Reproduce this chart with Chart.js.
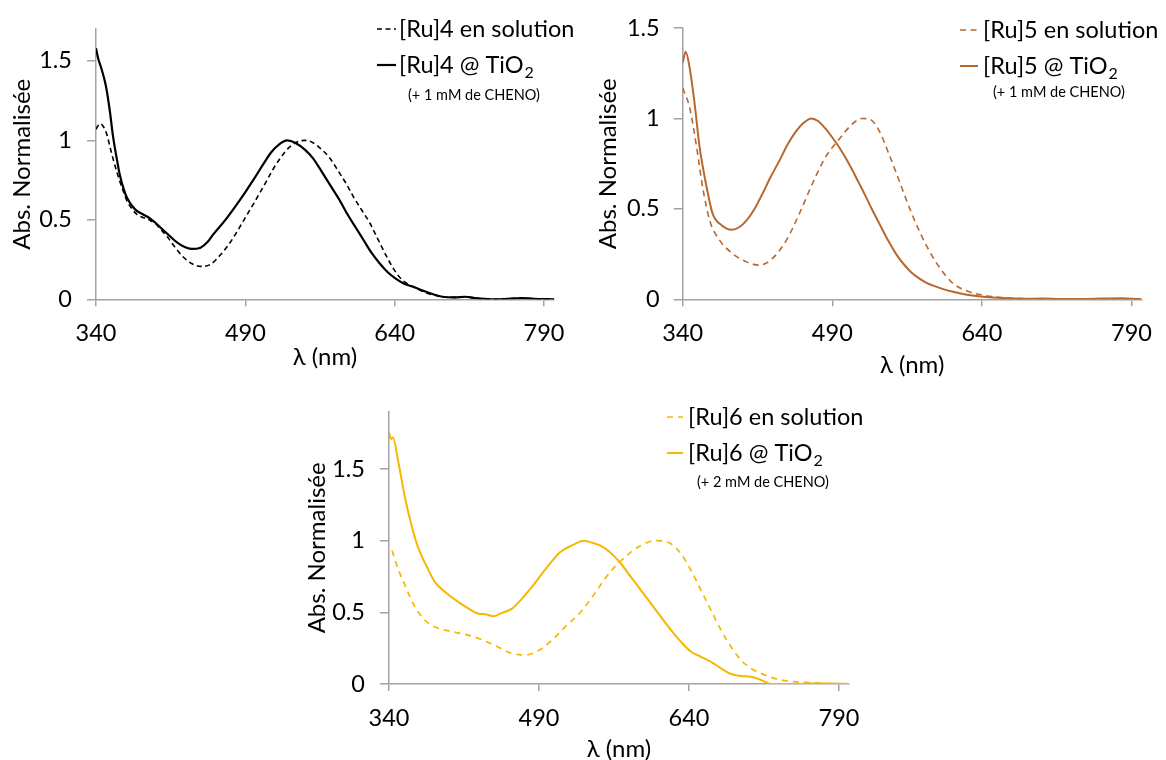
<!DOCTYPE html>
<html><head><meta charset="utf-8">
<script src="https://cdn.jsdelivr.net/npm/chart.js@4/dist/chart.umd.min.js"></script>
<style>
html,body{margin:0;padding:0;background:#fff;}
body{width:1166px;height:760px;position:relative;overflow:hidden;}
canvas{position:absolute;}
</style></head><body>
<canvas id="c1"></canvas><canvas id="c2"></canvas><canvas id="c3"></canvas>
<script>
// ---------- data ----------
const xTicks = [340, 490, 640, 790];
const yTicks = [0, 0.5, 1, 1.5];

const ru4SolNm  = [340,344,347,351,354,357,361,364,368,371,376,381,387,392,396,400,405,412,419,427,436,445,455,465,475,490,500,510,518,525,533,542,550,558,567,575,583,591,599,607,615,623,631,639,647,655,663,672,680,688,700,711,720,737,750,767,780,800];
const ru4SolAbs = [1.07,1.105,1.09,1.035,0.96,0.887,0.80,0.74,0.67,0.62,0.57,0.535,0.515,0.505,0.49,0.474,0.44,0.39,0.33,0.27,0.225,0.207,0.22,0.28,0.36,0.514,0.62,0.73,0.82,0.887,0.95,0.99,1.0,0.985,0.94,0.887,0.81,0.73,0.64,0.56,0.48,0.38,0.28,0.19,0.125,0.09,0.065,0.04,0.025,0.015,0.012,0.016,0.008,0.0,0.002,0.008,0.003,0.0];
const ru4TiNm   = [340,342,346,350,354,357,361,364,368,371,376,381,387,392,396,400,405,412,419,427,436,445,452,458,470,480,490,500,508,516,524,532,540,550,558,567,576,585,593,601,609,617,625,633,641,649,658,668,678,688,700,711,720,737,750,767,780,800];
const ru4TiAbs  = [1.58,1.52,1.44,1.34,1.18,1.03,0.88,0.78,0.69,0.64,0.59,0.556,0.535,0.518,0.50,0.48,0.45,0.41,0.37,0.335,0.317,0.325,0.36,0.41,0.50,0.585,0.675,0.77,0.85,0.925,0.975,1.0,0.985,0.94,0.887,0.80,0.71,0.62,0.53,0.45,0.37,0.29,0.225,0.17,0.13,0.10,0.08,0.055,0.033,0.016,0.012,0.016,0.008,0.0,0.002,0.008,0.003,0.0];

const ru5SolNm  = [340,347,354,360,367,377,390,404,417,430,444,457,470,483,497,510,520,527,537,547,557,567,577,587,597,611,627,640,660,680,700,750,800];
const ru5SolAbs = [1.17,1.06,0.84,0.62,0.437,0.327,0.253,0.207,0.189,0.226,0.327,0.474,0.639,0.785,0.887,0.969,1.0,0.997,0.932,0.80,0.657,0.51,0.38,0.27,0.18,0.088,0.042,0.024,0.01,0.004,0.002,0.002,0.001];
const ru5TiNm   = [340,343,347,352,357,364,370,379,389,397,404,412,420,428,437,445,453,461,469,476,483,490,497,503,510,517,523,530,537,547,554,561,569,577,585,594,602,611,627,644,660,680,700,720,740,760,780,790,800];
const ru5TiAbs  = [1.31,1.369,1.28,1.08,0.84,0.62,0.474,0.41,0.385,0.40,0.437,0.50,0.584,0.675,0.767,0.855,0.925,0.975,1.0,0.985,0.945,0.895,0.84,0.785,0.715,0.64,0.575,0.495,0.42,0.315,0.25,0.198,0.15,0.116,0.09,0.07,0.055,0.042,0.024,0.013,0.007,0.003,0.004,0.002,0.002,0.004,0.006,0.003,0.002];

const ru6SolNm  = [343,349,356,366,376,386,396,409,423,436,450,463,476,490,503,516,530,541,551,561,572,582,592,607,622,632,642,652,662,672,682,692,702,712,722,732,745,762,775,800];
const ru6SolAbs = [0.932,0.805,0.688,0.538,0.445,0.398,0.376,0.357,0.334,0.30,0.255,0.213,0.202,0.236,0.306,0.398,0.49,0.585,0.685,0.78,0.86,0.92,0.967,1.0,0.978,0.909,0.793,0.654,0.515,0.376,0.26,0.167,0.109,0.074,0.047,0.028,0.016,0.01,0.004,0.0];
const ru6TiNm   = [340,342,344,349,356,363,369,378,386,394,406,418,430,436,445,453,463,473,483,493,503,511,523,535,541,551,561,572,582,592,602,612,622,632,642,652,662,672,682,692,702,712,722,740,770,780,800];
const ru6TiAbs  = [1.755,1.71,1.72,1.56,1.30,1.094,0.955,0.816,0.711,0.654,0.589,0.533,0.49,0.487,0.473,0.496,0.526,0.596,0.677,0.77,0.857,0.92,0.967,1.0,0.99,0.967,0.92,0.839,0.746,0.654,0.561,0.468,0.376,0.294,0.225,0.19,0.155,0.109,0.07,0.056,0.051,0.028,0.0,0.0,0.005,0.003,0.0];

const ru4Labels = ['[Ru]4 en solution', '[Ru]4 @ TiO₂'];
const ru5Labels = ['[Ru]5 en solution', '[Ru]5 @ TiO₂'];
const ru6Labels = ['[Ru]6 en solution', '[Ru]6 @ TiO₂'];
const ru4Note = '(+ 1 mM de CHENO)';
const ru5Note = '(+ 1 mM de CHENO)';
const ru6Note = '(+ 2 mM de CHENO)';
const xTitle = 'λ (nm)';
const yTitle = 'Abs. Normalisée';

// ---------- style ----------
const FONT = 'Lato, "Open Sans", sans-serif';
const AXIS = '#a3a3a3';
Chart.defaults.font.family = FONT;
Chart.defaults.color = '#000';

const toXY = (nm, v) => nm.map((x, i) => ({x: x, y: v[i]}));

const legendPlugin = {
  id: 'spectraLegend',
  afterDraw(chart, args, o) {
    const ctx = chart.ctx;
    chart.data.datasets.forEach((ds, i) => {
      const y = o.rows[i];
      ctx.save();
      ctx.strokeStyle = ds.borderColor;
      ctx.lineWidth = ds.borderWidth;
      ctx.setLineDash(ds.borderDash || []);
      ctx.beginPath(); ctx.moveTo(o.x0, y); ctx.lineTo(o.x1, y); ctx.stroke();
      ctx.setLineDash([]);
      ctx.fillStyle = '#000'; ctx.textBaseline = 'middle'; ctx.textAlign = 'left';
      ctx.font = o.size + 'px ' + FONT;
      let label = ds.label, sub = '';
      if (label.endsWith('₂')) { label = label.slice(0, -1); sub = '2'; }
      ctx.fillText(label, o.tx, y);
      if (sub) {
        const w = ctx.measureText(label).width;
        ctx.font = o.subSize + 'px ' + FONT;
        ctx.fillText(sub, o.tx + w + 1, y + o.subDy);
      }
      ctx.restore();
    });
    ctx.save();
    ctx.fillStyle = '#000'; ctx.textBaseline = 'middle'; ctx.textAlign = 'left';
    ctx.font = o.noteSize + 'px ' + FONT;
    ctx.fillText(o.note, o.noteX, o.noteY);
    ctx.restore();
  }
};

function makeChart(id, geo, datasets, yMax, note) {
  const cv = document.getElementById(id);
  cv.width = geo.w; cv.height = geo.h;
  cv.style.left = geo.left + 'px'; cv.style.top = geo.top + 'px';
  cv.style.width = geo.w + 'px'; cv.style.height = geo.h + 'px';
  const TICK = 23.5, TITLE = 24;
  return new Chart(cv, {
    type: 'line',
    data: { datasets: datasets },
    options: {
      responsive: false, animation: false, devicePixelRatio: 1,
      layout: { padding: { left: 0, top: geo.area.top, right: geo.w - geo.area.right, bottom: 0 } },
      elements: { point: { radius: 0 }, line: { cubicInterpolationMode: 'monotone' } },
      plugins: {
        legend: { display: false }, tooltip: { enabled: false },
        spectraLegend: Object.assign({ note: note, size: 23.5, subSize: 16, subDy: 8, noteSize: 14.5 }, geo.legend)
      },
      scales: {
        x: {
          type: 'linear', min: 340, max: 800,
          afterFit: s => { s.height = geo.h - geo.area.bottom; },
          afterBuildTicks: s => { s.ticks = xTicks.map(v => ({ value: v })); },
          ticks: { padding: 13.5, font: { size: TICK }, maxRotation: 0, autoSkip: false, callback: v => String(v) },
          grid: { drawOnChartArea: false, drawTicks: true, tickLength: 7, color: AXIS, lineWidth: 1.5 },
          border: { display: true, color: AXIS, width: 1.5 },
          title: { display: true, text: xTitle, font: { size: TITLE, lineHeight: 1 },
                   padding: { top: 0, bottom: geo.h - geo.xTitleY - TITLE / 2 } }
        },
        y: {
          type: 'linear', min: 0, max: yMax,
          afterFit: s => { s.width = geo.area.left; },
          afterBuildTicks: s => { s.ticks = yTicks.map(v => ({ value: v })); },
          ticks: { padding: geo.yTickPad, font: { size: TICK }, callback: v => String(v) },
          grid: { drawOnChartArea: false, drawTicks: true, tickLength: 9, color: AXIS, lineWidth: 1.5 },
          border: { display: true, color: AXIS, width: 1.5 },
          title: { display: true, text: yTitle, font: { size: TITLE, lineHeight: 1 },
                   padding: { top: geo.yTitleX - TITLE / 2, bottom: 0 } }
        }
      }
    },
    plugins: [legendPlugin]
  });
}

const BLACK = '#000000', BROWN = '#b8682e', GOLD = '#f5b800';

makeChart('c1',
  { left: 0, top: 0, w: 580, h: 380, area: { left: 96, right: 554, top: 26.7, bottom: 299.3 },
    yTitleX: 22, xTitleY: 357, yTickPad: 15,
    legend: { x0: 377, x1: 396, tx: 399, rows: [29, 65], noteX: 408, noteY: 95 } },
  [
    { label: ru4Labels[0], data: toXY(ru4SolNm, ru4SolAbs), borderColor: BLACK, borderWidth: 1.6, borderDash: [5, 3.5] },
    { label: ru4Labels[1], data: toXY(ru4TiNm, ru4TiAbs), borderColor: BLACK, borderWidth: 2.2 }
  ], 1.7, ru4Note);

makeChart('c2',
  { left: 580, top: 0, w: 586, h: 380, area: { left: 102.7, right: 562.7, top: 26.7, bottom: 299.3 },
    yTitleX: 28, xTitleY: 365, yTickPad: 14,
    legend: { x0: 380, x1: 398, tx: 403, rows: [30, 66], noteX: 413, noteY: 92 } },
  [
    { label: ru5Labels[0], data: toXY(ru5SolNm, ru5SolAbs), borderColor: BROWN, borderWidth: 1.6, borderDash: [6, 4.5] },
    { label: ru5Labels[1], data: toXY(ru5TiNm, ru5TiAbs), borderColor: BROWN, borderWidth: 2 }
  ], 1.5, ru5Note);

makeChart('c3',
  { left: 290, top: 380, w: 590, h: 380, area: { left: 99, right: 559, top: 31.7, bottom: 304 },
    yTitleX: 27, xTitleY: 369, yTickPad: 15,
    legend: { x0: 377, x1: 393, tx: 398, rows: [37, 73], noteX: 407, noteY: 102 } },
  [
    { label: ru6Labels[0], data: toXY(ru6SolNm, ru6SolAbs), borderColor: GOLD, borderWidth: 1.7, borderDash: [6, 5] },
    { label: ru6Labels[1], data: toXY(ru6TiNm, ru6TiAbs), borderColor: GOLD, borderWidth: 2 }
  ], 1.9, ru6Note);
</script>
</body></html>
